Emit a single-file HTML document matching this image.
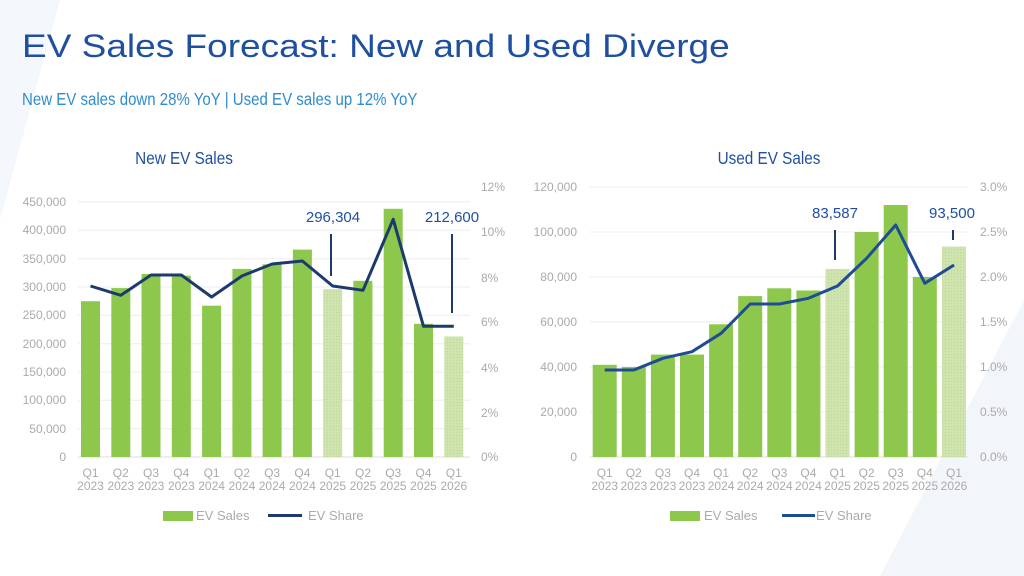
<!DOCTYPE html>
<html><head><meta charset="utf-8"><style>
html,body{margin:0;padding:0;background:#fff;width:1024px;height:576px;overflow:hidden}
svg{display:block;font-family:"Liberation Sans",sans-serif}
</style></head><body>
<svg width="1024" height="576" viewBox="0 0 1024 576" xmlns="http://www.w3.org/2000/svg">
<defs>
<pattern id="h" width="3" height="3" patternUnits="userSpaceOnUse"><rect width="3" height="3" fill="#cfe3ae"/><rect width="1" height="1" fill="#bcd894"/></pattern>
</defs>
<rect width="1024" height="576" fill="#fff"/>
<polygon points="0,0 60,0 0,220" fill="#f4f8fd"/>
<polygon points="1024,300 1024,576 880,576" fill="#f2f5fa"/>
<text transform="translate(22,57) scale(1.157,1)" font-size="32" fill="#1f4fa0">EV Sales Forecast: New and Used Diverge</text>
<text transform="translate(22,105) scale(0.835,1)" font-size="18" fill="#2e8bd0">New EV sales down 28% YoY | Used EV sales up 12% YoY</text>
<text transform="translate(184,164) scale(0.85,1)" font-size="18" fill="#1f4fa0" text-anchor="middle">New EV Sales</text>
<text transform="translate(769,164) scale(0.85,1)" font-size="18" fill="#1f4fa0" text-anchor="middle">Used EV Sales</text>

<!-- LEFT CHART -->
<g font-size="12" fill="#aaa">
<g stroke="#eee" stroke-width="1">
<line x1="78" x2="470" y1="202" y2="202"/><line x1="78" x2="470" y1="230.3" y2="230.3"/><line x1="78" x2="470" y1="258.7" y2="258.7"/><line x1="78" x2="470" y1="287" y2="287"/><line x1="78" x2="470" y1="315.3" y2="315.3"/><line x1="78" x2="470" y1="343.7" y2="343.7"/><line x1="78" x2="470" y1="372" y2="372"/><line x1="78" x2="470" y1="400.3" y2="400.3"/><line x1="78" x2="470" y1="428.7" y2="428.7"/>
</g>
<line x1="78" x2="470" y1="457" y2="457" stroke="#ddd"/>
<g text-anchor="end">
<text x="66" y="206">450,000</text><text x="66" y="234">400,000</text><text x="66" y="263">350,000</text><text x="66" y="291">300,000</text><text x="66" y="319">250,000</text><text x="66" y="348">200,000</text><text x="66" y="376">150,000</text><text x="66" y="404">100,000</text><text x="66" y="433">50,000</text><text x="66" y="461">0</text>
</g>
<g>
<text x="481" y="191">12%</text><text x="481" y="236">10%</text><text x="481" y="282">8%</text><text x="481" y="326">6%</text><text x="481" y="372">4%</text><text x="481" y="417">2%</text><text x="481" y="461">0%</text>
</g>
</g>
<g fill="#8dc84c">
<rect x="81" y="301.2" width="19" height="155.8"/>
<rect x="111.3" y="288.1" width="19" height="168.9"/>
<rect x="141.5" y="274" width="19" height="183"/>
<rect x="171.8" y="275.7" width="19" height="181.3"/>
<rect x="202.1" y="305.7" width="19" height="151.3"/>
<rect x="232.4" y="268.9" width="19" height="188.1"/>
<rect x="262.6" y="264.3" width="19" height="192.7"/>
<rect x="292.9" y="249.6" width="19" height="207.4"/>
<rect x="353.4" y="280.8" width="19" height="176.2"/>
<rect x="383.7" y="208.8" width="19" height="248.2"/>
<rect x="414" y="323.8" width="19" height="133.2"/>
</g>
<g fill="url(#h)">
<rect x="323.2" y="289.1" width="19" height="167.9"/>
<rect x="444.3" y="336.5" width="19" height="120.5"/>
</g>
<polyline fill="none" stroke="#1d3a6e" stroke-width="3" stroke-linejoin="round" points="90.5,286 120.8,295.3 151,275 181.3,275 211.6,297 241.9,276 272.1,264 302.4,261 332.7,286 363,290.3 393.2,219.3 423.5,326.3 453.8,326.3"/>
<line x1="331" y1="234" x2="331" y2="276" stroke="#1d3a6e" stroke-width="2"/>
<line x1="452" y1="234" x2="452" y2="313" stroke="#1d3a6e" stroke-width="2"/>
<text x="333" y="222" font-size="15" fill="#1f4fa0" text-anchor="middle">296,304</text>
<text x="452" y="222" font-size="15" fill="#1f4fa0" text-anchor="middle">212,600</text>
<g font-size="12" fill="#aaa" text-anchor="middle">
<text x="90.5" y="477">Q1</text><text x="120.8" y="477">Q2</text><text x="151" y="477">Q3</text><text x="181.3" y="477">Q4</text><text x="211.6" y="477">Q1</text><text x="241.9" y="477">Q2</text><text x="272.1" y="477">Q3</text><text x="302.4" y="477">Q4</text><text x="332.7" y="477">Q1</text><text x="363" y="477">Q2</text><text x="393.2" y="477">Q3</text><text x="423.5" y="477">Q4</text><text x="453.8" y="477">Q1</text>
<text x="90.5" y="490">2023</text><text x="120.8" y="490">2023</text><text x="151" y="490">2023</text><text x="181.3" y="490">2023</text><text x="211.6" y="490">2024</text><text x="241.9" y="490">2024</text><text x="272.1" y="490">2024</text><text x="302.4" y="490">2024</text><text x="332.7" y="490">2025</text><text x="363" y="490">2025</text><text x="393.2" y="490">2025</text><text x="423.5" y="490">2025</text><text x="453.8" y="490">2026</text>
</g>
<rect x="163" y="511" width="30" height="10" fill="#8dc84c"/>
<text x="196" y="520" font-size="13" fill="#aaa">EV Sales</text>
<line x1="268" y1="515.5" x2="302" y2="515.5" stroke="#1d3a6e" stroke-width="3"/>
<text x="308" y="520" font-size="13" fill="#aaa">EV Share</text>

<!-- RIGHT CHART -->
<g font-size="12" fill="#aaa">
<g stroke="#eee">
<line x1="590" x2="968" y1="187" y2="187"/><line x1="590" x2="968" y1="232" y2="232"/><line x1="590" x2="968" y1="277" y2="277"/><line x1="590" x2="968" y1="322" y2="322"/><line x1="590" x2="968" y1="367" y2="367"/><line x1="590" x2="968" y1="412" y2="412"/>
</g>
<line x1="590" x2="968" y1="457" y2="457" stroke="#ddd"/>
<g text-anchor="end">
<text x="577" y="191">120,000</text><text x="577" y="236">100,000</text><text x="577" y="281">80,000</text><text x="577" y="326">60,000</text><text x="577" y="371">40,000</text><text x="577" y="416">20,000</text><text x="577" y="461">0</text>
</g>
<g>
<text x="980" y="191">3.0%</text><text x="980" y="236">2.5%</text><text x="980" y="281">2.0%</text><text x="980" y="326">1.5%</text><text x="980" y="371">1.0%</text><text x="980" y="416">0.5%</text><text x="980" y="461">0.0%</text>
</g>
</g>
<g fill="#8dc84c">
<rect x="592.7" y="364.8" width="24" height="92.2"/>
<rect x="621.8" y="367" width="24" height="90"/>
<rect x="650.9" y="354.6" width="24" height="102.4"/>
<rect x="680" y="354.6" width="24" height="102.4"/>
<rect x="709.1" y="324.3" width="24" height="132.7"/>
<rect x="738.2" y="296.1" width="24" height="160.9"/>
<rect x="767.3" y="288.3" width="24" height="168.7"/>
<rect x="796.4" y="290.5" width="24" height="166.5"/>
<rect x="854.6" y="232" width="24" height="225"/>
<rect x="883.7" y="205" width="24" height="252"/>
<rect x="912.8" y="277" width="24" height="180"/>
</g>
<g fill="url(#h)">
<rect x="825.5" y="268.9" width="24" height="188.1"/>
<rect x="942" y="246.6" width="24" height="210.4"/>
</g>
<polyline fill="none" stroke="#1f4c94" stroke-width="3" stroke-linejoin="round" points="604.7,370 633.8,370 662.9,358.3 692,351.7 721.1,333.3 750.2,304 779.3,304 808.4,298.3 837.5,286 866.6,258.3 895.7,225 924.8,283.3 954,265"/>
<line x1="835" y1="230" x2="835" y2="260" stroke="#1d3a6e" stroke-width="2"/>
<line x1="953" y1="230" x2="953" y2="240" stroke="#1d3a6e" stroke-width="2"/>
<text x="835" y="218" font-size="15" fill="#1f4fa0" text-anchor="middle">83,587</text>
<text x="952" y="218" font-size="15" fill="#1f4fa0" text-anchor="middle">93,500</text>
<g font-size="12" fill="#aaa" text-anchor="middle">
<text x="604.7" y="477">Q1</text><text x="633.8" y="477">Q2</text><text x="662.9" y="477">Q3</text><text x="692" y="477">Q4</text><text x="721.1" y="477">Q1</text><text x="750.2" y="477">Q2</text><text x="779.3" y="477">Q3</text><text x="808.4" y="477">Q4</text><text x="837.5" y="477">Q1</text><text x="866.6" y="477">Q2</text><text x="895.7" y="477">Q3</text><text x="924.8" y="477">Q4</text><text x="954" y="477">Q1</text>
<text x="604.7" y="490">2023</text><text x="633.8" y="490">2023</text><text x="662.9" y="490">2023</text><text x="692" y="490">2023</text><text x="721.1" y="490">2024</text><text x="750.2" y="490">2024</text><text x="779.3" y="490">2024</text><text x="808.4" y="490">2024</text><text x="837.5" y="490">2025</text><text x="866.6" y="490">2025</text><text x="895.7" y="490">2025</text><text x="924.8" y="490">2025</text><text x="954" y="490">2026</text>
</g>
<rect x="670" y="511" width="30" height="10" fill="#8dc84c"/>
<text x="704" y="520" font-size="13" fill="#aaa">EV Sales</text>
<line x1="782" y1="515.5" x2="815" y2="515.5" stroke="#1f4c94" stroke-width="3"/>
<text x="816" y="520" font-size="13" fill="#aaa">EV Share</text>
</svg>
</body></html>
